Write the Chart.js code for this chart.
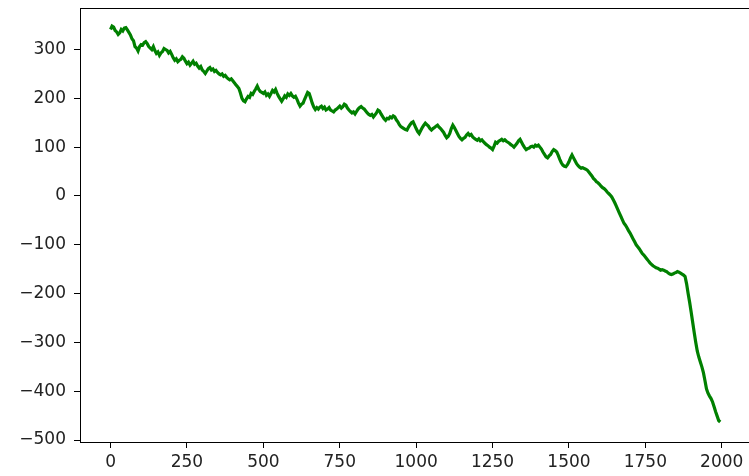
<!DOCTYPE html>
<html>
<head>
<meta charset="utf-8">
<script src="https://cdn.jsdelivr.net/npm/chart.js@4/dist/chart.umd.min.js"></script>
<style>
  html, body { margin: 0; padding: 0; background: #fff; overflow: hidden; }
  #wrap { width: 760px; height: 476px; }
</style>
</head>
<body>
<div id="wrap"><canvas id="chart"></canvas></div>
<script>
const step = 5;
const values = [
  341, 348, 346, 339, 336, 331, 334, 341, 338, 344, 345, 340, 335, 330, 322, 318, 306, 303, 297, 306,
  310, 309, 314, 316, 312, 306, 303, 300, 306, 298, 292, 295, 288, 293, 296, 302, 300, 298, 293, 296,
  290, 283, 278, 281, 275, 278, 280, 285, 282, 276, 271, 274, 268, 272, 276, 270, 272, 266, 262, 265,
  258, 255, 251, 256, 261, 263, 258, 260, 255, 257, 253, 250, 248, 250, 245, 247, 243, 240, 238, 240,
  236, 232, 228, 224, 220, 211, 200, 195, 193, 199, 204, 202, 210, 208, 214, 219, 225, 218, 214, 212,
  210, 213, 206, 209, 204, 210, 216, 213, 218, 210, 204, 199, 194, 199, 205, 202, 209, 206, 210, 205,
  202, 204, 198, 190, 184, 188, 190, 198, 205, 212, 210, 200, 190, 182, 177, 181, 178, 182, 184, 179,
  182, 176, 178, 181, 176, 174, 172, 176, 178, 181, 184, 180, 183, 188, 186, 180, 176, 173, 170, 172,
  168, 173, 178, 181, 183, 180, 178, 174, 170, 167, 165, 167, 162, 166, 170, 176, 174, 168, 163, 158,
  155, 159, 158, 162, 160, 164, 162, 156, 152, 146, 142, 140, 138, 136, 135, 141, 146, 150, 152, 145,
  138, 132, 128, 134, 140, 145, 149, 146, 143, 138, 135, 138, 140, 143, 145, 141, 138, 134, 130, 124,
  119, 122, 128, 138, 145, 140, 134, 128, 122, 118, 115, 118, 120, 125, 128, 124, 126, 121, 118, 116,
  114, 117, 113, 115, 111, 108, 105, 103, 100, 98, 95, 102, 110, 108, 112, 114, 116, 113, 115, 112,
  110, 108, 105, 103, 100, 104, 108, 113, 116, 110, 104, 99, 95, 97, 98, 101, 102, 100, 104, 102,
  104, 100, 96, 90, 85, 80, 78, 82, 85, 91, 95, 93, 90, 83, 75, 68, 63, 61, 60, 64,
  70, 78, 84, 78, 72, 66, 62, 59, 57, 58, 56, 55, 53, 49, 45, 41, 36, 33, 29, 27,
  24, 20, 17, 15, 12, 8, 5, 2, -2, -8, -14, -21, -28, -35, -42, -49, -56, -60, -65, -71,
  -76, -82, -88, -94, -100, -104, -108, -113, -118, -121, -125, -129, -133, -137, -140, -143, -145, -147, -148, -150,
  -152, -151, -152, -154, -155, -158, -160, -161, -160, -158, -157, -155, -156, -158, -160, -162, -165, -180, -200, -218,
  -238, -259, -280, -300, -318, -330, -340, -350, -362, -378, -395, -404, -410, -415, -422, -432, -442, -451, -460, -463
];
const xTicks = [0, 250, 500, 750, 1000, 1250, 1500, 1750, 2000];
const yTicks = [-500, -400, -300, -200, -100, 0, 100, 200, 300];

const points = values.map((v, i) => ({ x: i * step, y: v }));

const frame = {
  id: 'frame',
  afterDraw(chart) {
    const { ctx, chartArea: a } = chart;
    ctx.save();
    ctx.strokeStyle = '#000';
    ctx.lineWidth = 1;
    ctx.strokeRect(Math.round(a.left) + 0.5, Math.round(a.top) + 0.5,
      Math.round(a.right - a.left), Math.round(a.bottom - a.top));
    ctx.restore();
  }
};

new Chart(document.getElementById('chart'), {
  type: 'line',
  data: {
    datasets: [{
      data: points,
      borderColor: 'green',
      borderWidth: 3.2,
      pointRadius: 0,
      tension: 0,
      fill: false
    }]
  },
  options: {
    responsive: true,
    maintainAspectRatio: false,
    animation: false,
    layout: { padding: { top: 8, right: 8, left: 0, bottom: 0 } },
    plugins: { legend: { display: false }, tooltip: { enabled: false } },
    scales: {
      x: {
        type: 'linear',
        min: -100,
        max: 2099,
        afterBuildTicks: (s) => { s.ticks = xTicks.map(v => ({ value: v })); },
        afterFit: (s) => { s.height = 34; s.paddingLeft = 0; s.paddingRight = 0; },
        grid: { drawOnChartArea: false, drawTicks: true, tickLength: 6, tickColor: '#000' },
        border: { display: true, color: '#000' },
        ticks: {
          color: '#222', padding: 4, maxRotation: 0, font: { family: 'DejaVu Sans', size: 17 },
          callback: (v) => String(v)
        }
      },
      y: {
        min: -504,
        max: 385,
        afterBuildTicks: (s) => { s.ticks = yTicks.map(v => ({ value: v })); },
        afterFit: (s) => { s.width = 80; s.paddingTop = 0; s.paddingBottom = 0; },
        grid: { drawOnChartArea: false, drawTicks: true, tickLength: 6, tickColor: '#000' },
        border: { display: true, color: '#000' },
        ticks: {
          color: '#222', padding: 8, font: { family: 'DejaVu Sans', size: 17 },
          callback: (v) => String(v).replace('-', '\u2212')
        }
      }
    }
  },
  plugins: [frame]
});
</script>
</body>
</html>
